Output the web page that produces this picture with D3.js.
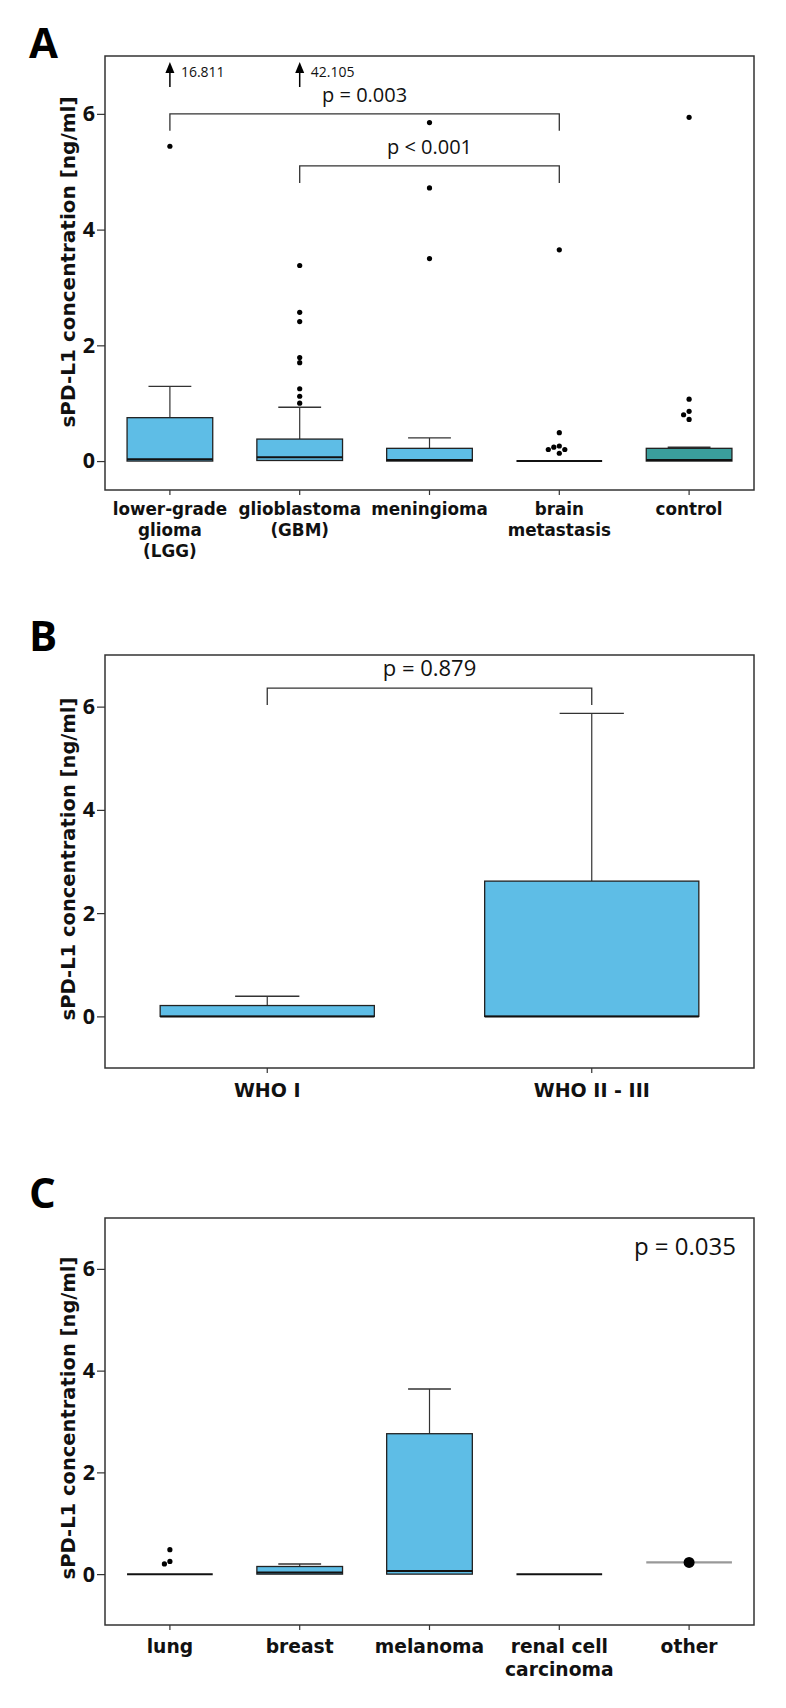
<!DOCTYPE html>
<html>
<head>
<meta charset="utf-8">
<script src="https://cdn.jsdelivr.net/npm/d3@7"></script>
<style>
  body { margin: 0; background: #fff; }
</style>
</head>
<body>
<div id="chart"></div>
<script>
// ---------- data (ng/ml) ----------

// panel A: all groups
const aCategories = ["lower-grade glioma (LGG)", "glioblastoma (GBM)", "meningioma", "brain metastasis", "control"];
const aTickLabels = [["lower-grade", "glioma", "(LGG)"], ["glioblastoma", "(GBM)"], ["meningioma"], ["brain", "metastasis"], ["control"]];
const aQ1 = [0, 0.01, 0, 0, 0];
const aMedian = [0.03, 0.066, 0.02, 0, 0.02];
const aQ3 = [0.75, 0.38, 0.22, 0, 0.22];
const aWhiskerLow = [0, 0, 0, 0, 0];
const aWhiskerHigh = [1.29, 0.93, 0.40, 0, 0.24];
const aOutliers = [
  [5.44],
  [3.38, 2.57, 2.41, 1.79, 1.70, 1.25, 1.12, 1.00],
  [5.85, 4.72, 3.50],
  [3.65, 0.49, 0.26, 0.24, 0.20, 0.20, 0.135],
  [5.94, 1.07, 0.86, 0.80, 0.72]
];
const aOffScale = [16.811, 42.105, null, null, null]; // values above the axis, shown with an arrow
const aBrackets = [
  {from: "lower-grade glioma (LGG)", to: "brain metastasis", at: 6.0, label: "p = 0.003"},
  {from: "glioblastoma (GBM)", to: "brain metastasis", at: 5.1, label: "p < 0.001"}
];

// panel B: meningioma by WHO grade
const bCategories = ["WHO I", "WHO II - III"];
const bQ1 = [0, 0];
const bMedian = [0, 0];
const bQ3 = [0.21, 2.62];
const bWhiskerLow = [0, 0];
const bWhiskerHigh = [0.39, 5.87];
const bOutliers = [[], []];
const bBrackets = [
  {from: "WHO I", to: "WHO II - III", at: 6.36, label: "p = 0.879"}
];

// panel C: brain metastasis by primary tumour
const cCategories = ["lung", "breast", "melanoma", "renal cell carcinoma", "other"];
const cTickLabels = [["lung"], ["breast"], ["melanoma"], ["renal cell", "carcinoma"], ["other"]];
const cQ1 = [0, 0, 0, 0, null];
const cMedian = [0, 0.03, 0.06, 0, null];
const cQ3 = [0, 0.15, 2.76, 0, null];
const cWhiskerLow = [0, 0, 0, 0, null];
const cWhiskerHigh = [0, 0.20, 3.64, 0, null];
const cOutliers = [[0.48, 0.25, 0.20], [], [], [], []];
const cSingle = [null, null, null, null, 0.23]; // group with a single case
const cNote = "p = 0.035";

const yTicks = [0, 2, 4, 6];

// ---------- style ----------
const boxFill = "#5ebde6";
const fillByCategory = {"control": "#3a9e9c"};
const tickFont = "'Open Sans', sans-serif";
const labelFont = "'DejaVu Sans', Verdana, sans-serif";
const pFont = "'Open Sans', sans-serif";

const svg = d3.select("#chart").append("svg")
  .attr("width", 786)
  .attr("height", 1708);

// panel layouts
const panels = [
  {
    letter: "A", letterY: 58,
    left: 105, right: 754, top: 56, bottom: 490, domain: [-0.5, 7],
    titleY: 262, titleSize: 20, labelSize: 16.8, labelGap: 25, lineHeight: 21,
    categories: aCategories, tickLabels: aTickLabels,
    q1: aQ1, median: aMedian, q3: aQ3, lo: aWhiskerLow, hi: aWhiskerHigh,
    outliers: aOutliers, offScale: aOffScale, brackets: aBrackets,
    boxRatio: 0.66, capRatio: 0.5, pSize: 20
  },
  {
    letter: "B", letterY: 651,
    left: 105, right: 754, top: 655, bottom: 1068, domain: [-1, 7],
    titleY: 859, titleSize: 19.5, labelSize: 19, labelGap: 29, lineHeight: 22,
    categories: bCategories, tickLabels: bCategories.map(d => [d]),
    q1: bQ1, median: bMedian, q3: bQ3, lo: bWhiskerLow, hi: bWhiskerHigh,
    outliers: bOutliers, brackets: bBrackets,
    boxRatio: 0.66, capRatio: 0.3, pSize: 22
  },
  {
    letter: "C", letterY: 1208,
    left: 105, right: 754, top: 1218, bottom: 1625, domain: [-1, 7],
    titleY: 1418, titleSize: 19.5, labelSize: 18.7, labelGap: 28, lineHeight: 23,
    categories: cCategories, tickLabels: cTickLabels,
    q1: cQ1, median: cMedian, q3: cQ3, lo: cWhiskerLow, hi: cWhiskerHigh,
    outliers: cOutliers, single: cSingle, note: cNote,
    boxRatio: 0.66, capRatio: 0.5, pSize: 24
  }
];

panels.forEach(drawPanel);

function drawPanel(p) {
  const x = d3.scaleBand().domain(p.categories).range([p.left, p.right]);
  const y = d3.scaleLinear().domain(p.domain).range([p.bottom, p.top]);
  const g = svg.append("g");
  const cx = c => x(c) + x.bandwidth() / 2;
  const bw = x.bandwidth() * p.boxRatio;

  // panel letter
  g.append("text")
    .attr("x", 29).attr("y", p.letterY)
    .attr("font-family", "'Open Sans', sans-serif")
    .attr("font-weight", 700)
    .attr("font-size", 42)
    .text(p.letter);

  // y axis
  const yAxis = g.append("g")
    .attr("transform", `translate(${p.left},0)`)
    .call(d3.axisLeft(y).tickValues(yTicks).tickSize(8).tickPadding(2).tickFormat(d3.format("d")));
  yAxis.select(".domain").remove();
  yAxis.selectAll(".tick line").attr("stroke", "#333").attr("stroke-width", 1.2);
  yAxis.selectAll(".tick text")
    .attr("font-family", tickFont).attr("font-weight", 700).attr("font-size", 21.5).attr("fill", "#111");

  // x axis with multi-line labels
  const xAxis = g.append("g")
    .attr("transform", `translate(0,${p.bottom})`)
    .call(d3.axisBottom(x).tickSize(5).tickFormat(""));
  xAxis.select(".domain").remove();
  xAxis.selectAll(".tick line").attr("stroke", "#333").attr("stroke-width", 1.2);
  xAxis.selectAll(".tick").each(function(d) {
    const lines = p.tickLabels[p.categories.indexOf(d)];
    const t = d3.select(this).append("text")
      .attr("fill", "#111")
      .attr("text-anchor", "middle")
      .attr("font-family", labelFont).attr("font-weight", 700).attr("font-size", p.labelSize);
    lines.forEach((ln, k) => {
      t.append("tspan").attr("x", 0).attr("y", p.labelGap + k * p.lineHeight).text(ln);
    });
  });

  // frame
  g.append("rect")
    .attr("x", p.left).attr("y", p.top)
    .attr("width", p.right - p.left).attr("height", p.bottom - p.top)
    .attr("fill", "none").attr("stroke", "#333").attr("stroke-width", 1.5);

  // y title
  g.append("text")
    .attr("transform", `translate(75,${p.titleY}) rotate(-90)`)
    .attr("text-anchor", "middle")
    .attr("font-family", labelFont).attr("font-weight", 700).attr("font-size", p.titleSize)
    .attr("fill", "#111")
    .text("sPD-L1 concentration [ng/ml]");

  // boxes
  p.categories.forEach((c, i) => {
    const xc = cx(c);
    if (p.single && p.single[i] != null) {
      g.append("line")
        .attr("x1", xc - bw / 2).attr("x2", xc + bw / 2)
        .attr("y1", y(p.single[i])).attr("y2", y(p.single[i]))
        .attr("stroke", "#999").attr("stroke-width", 2.2);
      g.append("circle")
        .attr("cx", xc).attr("cy", y(p.single[i])).attr("r", 5.5).attr("fill", "#000");
      return;
    }
    const cap = bw * p.capRatio;
    // upper whisker
    if (p.hi[i] > p.q3[i]) {
      g.append("line").attr("x1", xc).attr("x2", xc)
        .attr("y1", y(p.q3[i])).attr("y2", y(p.hi[i]))
        .attr("stroke", "#333").attr("stroke-width", 1.2);
      g.append("line").attr("x1", xc - cap / 2).attr("x2", xc + cap / 2)
        .attr("y1", y(p.hi[i])).attr("y2", y(p.hi[i]))
        .attr("stroke", "#333").attr("stroke-width", 1.4);
    }
    if (p.lo[i] < p.q1[i]) {
      g.append("line").attr("x1", xc).attr("x2", xc)
        .attr("y1", y(p.q1[i])).attr("y2", y(p.lo[i]))
        .attr("stroke", "#333").attr("stroke-width", 1.2);
    }
    if (p.q3[i] > p.q1[i]) {
      g.append("rect")
        .attr("x", xc - bw / 2).attr("width", bw)
        .attr("y", y(p.q3[i])).attr("height", y(p.q1[i]) - y(p.q3[i]))
        .attr("fill", fillByCategory[c] || boxFill)
        .attr("stroke", "#222").attr("stroke-width", 1.3);
    }
    g.append("line")
      .attr("x1", xc - bw / 2).attr("x2", xc + bw / 2)
      .attr("y1", y(p.median[i])).attr("y2", y(p.median[i]))
      .attr("stroke", "#111").attr("stroke-width", 2);

    // outliers, nudged sideways when they would overlap
    const r = 2.6, placed = [];
    const steps = [0, -1, 1, -2, 2, -3, 3];
    p.outliers[i].slice().sort((a, b) => b - a).forEach(v => {
      const py = y(v);
      let px = xc;
      for (const s of steps) {
        const tx = xc + s * 5.5;
        if (placed.every(q => Math.hypot(q[0] - tx, q[1] - py) >= 2 * r)) { px = tx; break; }
      }
      placed.push([px, py]);
    });
    g.selectAll(null).data(placed).enter().append("circle")
      .attr("cx", d => d[0]).attr("cy", d => d[1]).attr("r", r).attr("fill", "#000");

    // values beyond the top of the axis
    if (p.offScale && p.offScale[i] != null) {
      g.append("line").attr("x1", xc).attr("x2", xc)
        .attr("y1", p.top + 31).attr("y2", p.top + 14)
        .attr("stroke", "#000").attr("stroke-width", 1.5);
      g.append("path")
        .attr("d", `M${xc},${p.top + 6}L${xc - 4.5},${p.top + 17}L${xc + 4.5},${p.top + 17}Z`)
        .attr("fill", "#000");
      g.append("text")
        .attr("x", xc + 11).attr("y", p.top + 21)
        .attr("font-family", pFont).attr("font-size", 14).attr("fill", "#111")
        .text(d3.format(".3f")(p.offScale[i]));
    }
  });

  // significance brackets
  (p.brackets || []).forEach(b => {
    const x1 = cx(b.from), x2 = cx(b.to), yb = y(b.at);
    g.append("path")
      .attr("d", `M${x1},${yb + 17}V${yb}H${x2}V${yb + 17}`)
      .attr("fill", "none").attr("stroke", "#333").attr("stroke-width", 1.3);
    g.append("text")
      .attr("x", (x1 + x2) / 2).attr("y", yb - 12)
      .attr("text-anchor", "middle")
      .attr("font-family", pFont).attr("font-size", p.pSize).attr("fill", "#111")
      .text(b.label);
  });

  if (p.note) {
    g.append("text")
      .attr("x", p.right - 18).attr("y", p.top + 37)
      .attr("text-anchor", "end")
      .attr("font-family", pFont).attr("font-size", p.pSize).attr("fill", "#111")
      .text(p.note);
  }
}
</script>
</body>
</html>
